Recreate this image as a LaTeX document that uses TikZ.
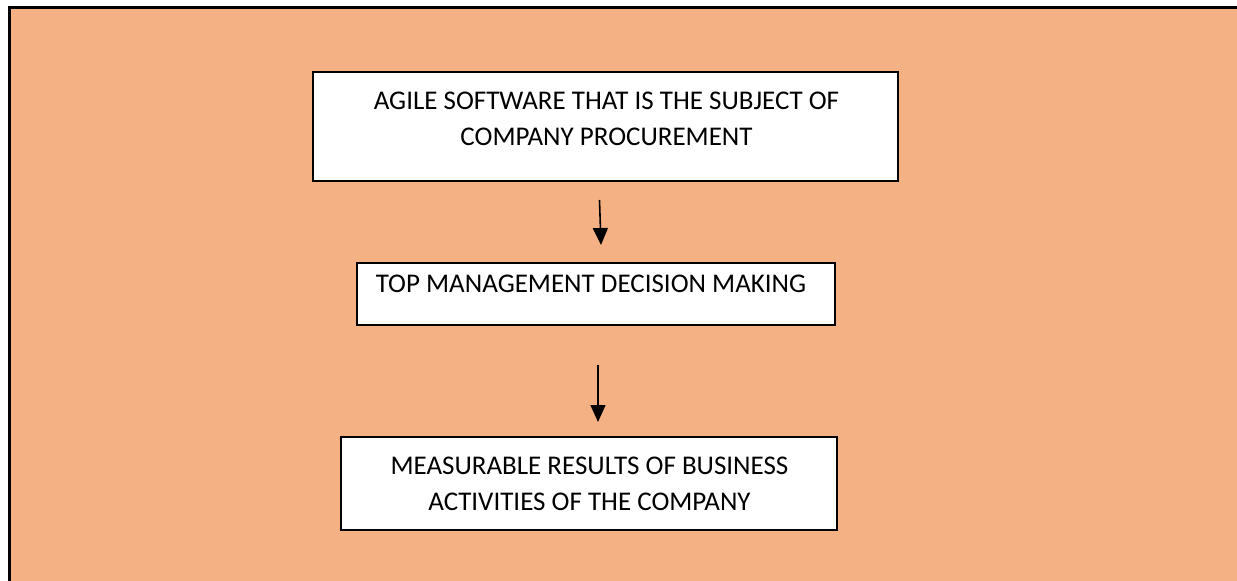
\documentclass[tikz,border=0pt]{standalone}
\usepackage{fontspec}
\setmainfont{Carlito}
\usetikzlibrary{arrows.meta}
\definecolor{bgorange}{RGB}{244,177,131}
\begin{document}
\begin{tikzpicture}[x=1bp,y=1bp,
  box/.style={draw=black, line width=1.5bp, fill=white, inner sep=0pt},
  txt/.style={align=center, inner sep=0pt, font=\fontsize{27bp}{36bp}\selectfont},
  arr/.style={line width=1.6bp, -{Triangle[length=17bp,width=15bp]}}]
\useasboundingbox (0,0) rectangle (1237,-581);
\fill[bgorange] (9,-8) rectangle (1237,-581);
\draw[line width=3bp] (9,-581) -- (9,-8) -- (1237,-8);
\node[box, minimum width=585bp, minimum height=109bp] (b1) at (605.5,-126.5) {};
\node[txt] (t1) at (606.5,-118.5) {AGILE SOFTWARE THAT IS THE SUBJECT OF\\COMPANY PROCUREMENT};
\node[box, minimum width=478bp, minimum height=62bp] (b2) at (596,-294) {};
\node[txt] (t2) at (591,-284) {TOP MANAGEMENT DECISION MAKING};
\node[box, minimum width=496bp, minimum height=93bp] (b3) at (589,-483.5) {};
\node[txt] (t3) at (589.5,-484) {MEASURABLE RESULTS OF BUSINESS\\ACTIVITIES OF THE COMPANY};
\coordinate (a1s) at (599.5,-200);
\coordinate (a1e) at (601,-245);
\coordinate (a2s) at (598,-365);
\coordinate (a2e) at (598,-422);
\draw[arr] (a1s) -- (a1e);
\draw[arr] (a2s) -- (a2e);
\end{tikzpicture}
\end{document}
